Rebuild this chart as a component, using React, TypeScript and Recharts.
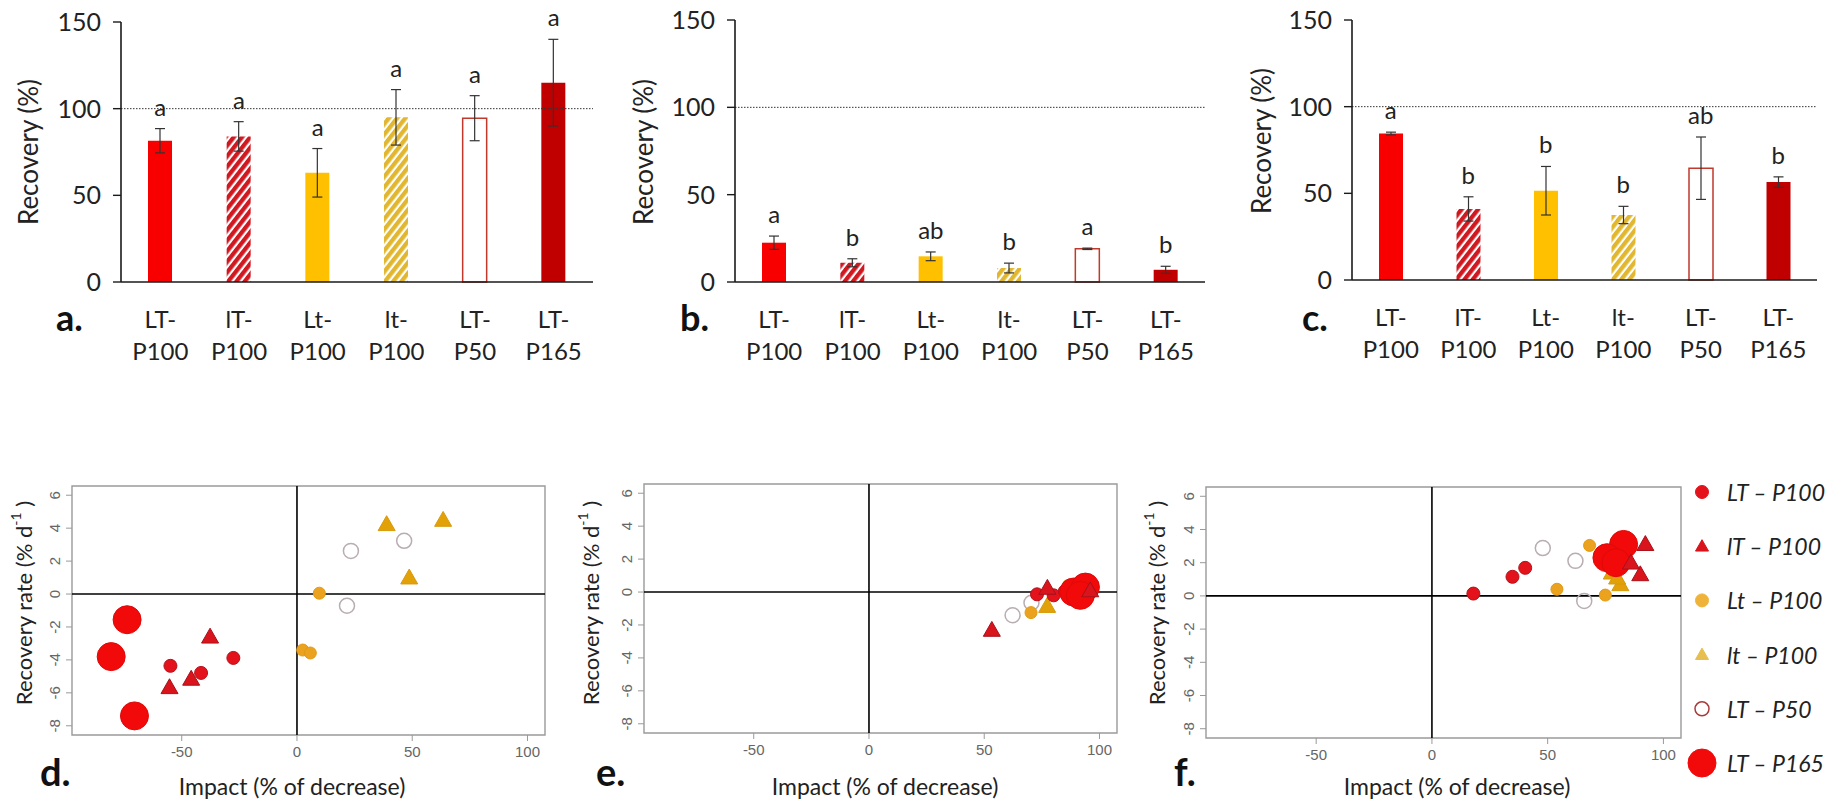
import React from 'react';
import {
  ComposedChart,
  Bar,
  Cell,
  ErrorBar,
  Line,
  XAxis,
  YAxis,
  ReferenceLine,
  ReferenceArea,
  ScatterChart,
  Scatter,
  Legend,
} from 'recharts';

// treatments (same order in every panel)
const groups = ['LT-P100', 'lT-P100', 'Lt-P100', 'lt-P100', 'LT-P50', 'LT-P165'];
const legendNames = ['LT – P100', 'lT – P100', 'Lt – P100', 'lt – P100', 'LT – P50', 'LT – P165'];

// a. recovery (%)
const recoveryA = [81.5, 84, 63, 95, 94.5, 115];
const errorA = [7, 8.5, 14, 16, 13, 25];
const lettersA = ['a', 'a', 'a', 'a', 'a', 'a'];

// b.
const recoveryB = [22.5, 11, 14.7, 8, 19, 7];
const errorB = [3.8, 2.3, 2.5, 2.8, 0.4, 2];
const lettersB = ['a', 'b', 'ab', 'b', 'a', 'b'];

// c.
const recoveryC = [84.5, 41, 51.5, 37.5, 64.5, 56.5];
const errorC = [0.8, 7, 14, 5, 18, 3];
const lettersC = ['a', 'b', 'b', 'b', 'ab', 'b'];

const recoveryTicks = [0, 50, 100, 150];

// d. recovery rate vs impact
const dLT100 = [{ x: -54.9, y: -4.36 }, { x: -27.6, y: -3.88 }, { x: -41.6, y: -4.79 }];
const dlT100 = [{ x: -37.7, y: -2.59 }, { x: -55.3, y: -5.66 }, { x: -45.9, y: -5.15 }];
const dLt100 = [{ x: 9.7, y: 0.05 }, { x: 2.5, y: -3.4 }, { x: 5.8, y: -3.58 }];
const dlt100 = [{ x: 38.9, y: 4.24 }, { x: 63.4, y: 4.5 }, { x: 48.7, y: 1.0 }];
const dLT50 = [{ x: 23.4, y: 2.62 }, { x: 46.5, y: 3.23 }, { x: 21.7, y: -0.71 }];
const dLT165 = [{ x: -73.7, y: -1.56 }, { x: -80.6, y: -3.8 }, { x: -70.5, y: -7.4 }];

// e.
const eLT100 = [{ x: 72.9, y: -0.14 }, { x: 80.1, y: -0.2 }, { x: 85, y: 0.05 }];
const elT100 = [{ x: 53.3, y: -2.3 }, { x: 77.4, y: 0.25 }, { x: 96, y: 0.1 }];
const eLt100 = [{ x: 70.3, y: -1.25 }, { x: 86.5, y: 0.4 }, { x: 90, y: 0.15 }];
const elt100 = [{ x: 77.3, y: -0.85 }, { x: 88, y: 0.3 }, { x: 92.5, y: 0.05 }];
const eLT50 = [{ x: 62.3, y: -1.41 }, { x: 70.5, y: -0.65 }, { x: 87, y: 0.1 }];
const eLT165 = [{ x: 88.8, y: 0 }, { x: 93.9, y: 0.3 }, { x: 91.7, y: -0.2 }];

// f.
const fLT100 = [{ x: 17.9, y: 0.14 }, { x: 34.8, y: 1.15 }, { x: 40.3, y: 1.69 }];
const flT100 = [{ x: 92.2, y: 3.12 }, { x: 90, y: 1.3 }, { x: 86, y: 2.0 }];
const fLt100 = [{ x: 54, y: 0.4 }, { x: 68.1, y: 3.04 }, { x: 74.9, y: 0.05 }];
const flt100 = [{ x: 81.4, y: 0.7 }, { x: 77.7, y: 1.4 }, { x: 80, y: 1.1 }];
const fLT50 = [{ x: 47.9, y: 2.88 }, { x: 62, y: 2.11 }, { x: 65.8, y: -0.3 }];
const fLT165 = [{ x: 82.8, y: 3.1 }, { x: 75.6, y: 2.3 }, { x: 79.5, y: 2.0 }];

const impactDomain = [-97.6, 107.6];
const impactTicks = [-50, 0, 50, 100];
const rateDomain = [-8.56, 6.56];
const rateTicks = [-8, -6, -4, -2, 0, 2, 4, 6];

const CAL = "Lato, 'Open Sans', sans-serif";
const ARIAL = "'Liberation Sans', Arial, sans-serif";

const barFill = (id: string) => ['#f80000', `url(#hr-${id})`, '#ffc000', `url(#hg-${id})`, '#ffffff', '#c00000'];

const markers: Record<string, any> = {
  'LT-P100': { kind: 'circle', size: 6.5, fill: '#e3121b', stroke: '#b5121b', sw: 1 },
  'lT-P100': { kind: 'tri', size: 8.5, fill: '#d9141c', stroke: '#a8101a', sw: 1 },
  'Lt-P100': { kind: 'circle', size: 6, fill: '#eba21f', stroke: '#e39a12', sw: 1 },
  'lt-P100': { kind: 'tri', size: 8.5, fill: '#e2a108', stroke: '#d89a0a', sw: 1 },
  'LT-P50': { kind: 'circle', size: 7.5, fill: 'none', stroke: '#b8adb0', sw: 1.5 },
  'LT-P165': { kind: 'circle', size: 14, fill: '#f20a0a', stroke: '#e00808', sw: 1 },
};

const legendMarkers: Record<string, any> = {
  'LT-P100': { kind: 'circle', size: 6.5, fill: '#e3121b', stroke: '#e3121b', sw: 1 },
  'lT-P100': { kind: 'tri', size: 6.5, fill: '#d9141c', stroke: '#d9141c', sw: 1 },
  'Lt-P100': { kind: 'circle', size: 6.5, fill: '#f0b33a', stroke: '#f0b33a', sw: 1 },
  'lt-P100': { kind: 'tri', size: 6.5, fill: '#e6bf50', stroke: '#e6bf50', sw: 1 },
  'LT-P50': { kind: 'circle', size: 7, fill: 'none', stroke: '#a83a3a', sw: 1.5 },
  'LT-P165': { kind: 'circle', size: 14, fill: '#f20a0a', stroke: '#f20a0a', sw: 1 },
};

function drawMarker(m: any, cx: number, cy: number, key?: any) {
  if (m.kind === 'tri') {
    const s = m.size;
    const pts = `${cx},${cy - s} ${cx - s},${cy + s * 0.75} ${cx + s},${cy + s * 0.75}`;
    return <polygon key={key} points={pts} fill={m.fill} stroke={m.stroke} strokeWidth={m.sw} />;
  }
  return <circle key={key} cx={cx} cy={cy} r={m.size} fill={m.fill} stroke={m.stroke} strokeWidth={m.sw} />;
}

function CategoryTick(props: any) {
  const { x, y, payload } = props;
  const [a, b] = String(payload.value).split('-');
  return (
    <text x={x} y={y} textAnchor="middle" fontSize={24} fill="#222" fontFamily={CAL}>
      <tspan x={x} dy={46}>{a}-</tspan>
      <tspan x={x} dy={32}>{b}</tspan>
    </text>
  );
}

function RecoveryPanel({ id, rec, err, letters, width, margin, titleX, titleY, panelX }: any) {
  const rows = groups.map((g, i) => ({
    name: g,
    value: rec[i],
    err: err[i],
    top: rec[i] + err[i],
    letter: letters[i],
  }));
  const fills = barFill(id);

  const letterDot = (p: any) => (
    <text key={`l-${p.index}`} x={p.cx} y={p.cy - 13} textAnchor="middle" fontSize={24} fill="#222" fontFamily={CAL}>
      {p.payload.letter}
    </text>
  );

  return (
    <ComposedChart width={width} height={375} data={rows} margin={margin}>
      <defs>
        <pattern id={`hr-${id}`} patternUnits="userSpaceOnUse" width="6.5" height="6.5" patternTransform="rotate(38)">
          <rect width="6.5" height="6.5" fill="#ffffff" />
          <rect width="4.3" height="6.5" fill="#d01820" />
        </pattern>
        <pattern id={`hg-${id}`} patternUnits="userSpaceOnUse" width="6.5" height="6.5" patternTransform="rotate(38)">
          <rect width="6.5" height="6.5" fill="#ffffff" />
          <rect width="4.3" height="6.5" fill="#e2b730" />
        </pattern>
      </defs>
      <XAxis
        dataKey="name"
        interval={0}
        tickLine={false}
        tickSize={0}
        tickMargin={0}
        height={60}
        axisLine={{ stroke: '#1a1a1a', strokeWidth: 1.6 }}
        tick={<CategoryTick />}
      />
      <YAxis
        domain={[0, 150]}
        ticks={recoveryTicks}
        width={60}
        tickSize={8}
        tickMargin={12}
        axisLine={{ stroke: '#1a1a1a', strokeWidth: 1.6 }}
        tickLine={{ stroke: '#1a1a1a', strokeWidth: 1.4 }}
        tick={{ fontSize: 25, fill: '#222', fontFamily: CAL }}
      />
      <ReferenceLine y={100} stroke="#333" strokeWidth={1} strokeDasharray="1.5 1.5" />
      <Bar dataKey="value" barSize={24} isAnimationActive={false}>
        {rows.map((r, i) => (
          <Cell
            key={r.name}
            fill={fills[i]}
            stroke={r.name === 'LT-P50' ? '#c0392b' : 'none'}
            strokeWidth={r.name === 'LT-P50' ? 1.5 : 0}
          />
        ))}
        <ErrorBar dataKey="err" width={5} stroke="#333" strokeWidth={1.2} direction="y" />
      </Bar>
      <Line
        dataKey="top"
        stroke="none"
        dot={letterDot}
        activeDot={false}
        legendType="none"
        isAnimationActive={false}
      />
      <text
        x={titleX}
        y={titleY}
        transform={`rotate(-90 ${titleX} ${titleY})`}
        textAnchor="middle"
        dominantBaseline="central"
        fontSize={26}
        fill="#222"
        fontFamily={CAL}
      >
        Recovery (%)
      </text>
      <text x={panelX} y={331} fontSize={36} fontWeight="bold" fill="#111" fontFamily={CAL}>
        {id}.
      </text>
    </ComposedChart>
  );
}

function RateTick(props: any) {
  const { x, y, payload } = props;
  return (
    <text
      x={x}
      y={y}
      transform={`rotate(-90 ${x} ${y})`}
      textAnchor="middle"
      fontSize={15}
      fill="#666"
      fontFamily={ARIAL}
    >
      {payload.value}
    </text>
  );
}

function LegendBox() {
  return (
    <svg width={170} height={330}>
      {groups.map((g, i) => {
        const cy = 30 + i * 54.2;
        return (
          <g key={g}>
            {drawMarker(legendMarkers[g], 17, cy)}
            <text
              x={42}
              y={cy}
              dominantBaseline="central"
              fontSize={23}
              fontStyle="italic"
              fill="#222"
              fontFamily={CAL}
            >
              {legendNames[i]}
            </text>
          </g>
        );
      })}
    </svg>
  );
}

function RatePanel({ id, sets, width, margin, titleX, titleY, impactX, panelX, showLegend }: any) {
  // drawing order: open circles and small symbols first, big circles near the top
  const order = ['LT-P50', 'Lt-P100', 'lt-P100', 'LT-P100', 'LT-P165', 'lT-P100'];
  return (
    <ScatterChart width={width} height={373} margin={margin}>
      <XAxis
        type="number"
        dataKey="x"
        domain={impactDomain}
        ticks={impactTicks}
        allowDataOverflow
        height={30}
        axisLine={false}
        tickSize={6}
        tickMargin={5}
        tickLine={{ stroke: '#999' }}
        tick={{ fontSize: 15, fill: '#666', fontFamily: ARIAL }}
      />
      <YAxis
        type="number"
        dataKey="y"
        domain={rateDomain}
        ticks={rateTicks}
        allowDataOverflow
        width={30}
        axisLine={false}
        tickSize={6}
        tickMargin={6}
        tickLine={{ stroke: '#999' }}
        tick={<RateTick />}
      />
      <ReferenceArea
        x1={impactDomain[0]}
        x2={impactDomain[1]}
        y1={rateDomain[0]}
        y2={rateDomain[1]}
        fill="none"
        fillOpacity={0}
        stroke="#9a9a9a"
        strokeWidth={1.4}
        ifOverflow="visible"
      />
      <ReferenceLine x={0} stroke="#000" strokeWidth={1.6} />
      <ReferenceLine y={0} stroke="#000" strokeWidth={1.6} />
      {order.map((g) => (
        <Scatter
          key={g}
          name={legendNames[groups.indexOf(g)]}
          data={sets[g]}
          fill={markers[g].fill}
          isAnimationActive={false}
          shape={(p: any) => drawMarker(markers[g], p.cx, p.cy)}
        />
      ))}
      {showLegend && (
        <Legend
          layout="vertical"
          align="center"
          verticalAlign="middle"
          wrapperStyle={{ left: 545, top: 32, width: 170, height: 330 }}
          content={() => <LegendBox />}
        />
      )}
      <text
        x={titleX}
        y={titleY}
        transform={`rotate(-90 ${titleX} ${titleY})`}
        textAnchor="middle"
        dominantBaseline="central"
        fontSize={22}
        fill="#222"
        fontFamily={CAL}
      >
        Recovery rate (% d
        <tspan dy={-8} fontSize={14}>-1</tspan>
        <tspan dy={8}> )</tspan>
      </text>
      <text x={impactX} y={365} textAnchor="middle" fontSize={23} fill="#222" fontFamily={CAL}>
        Impact (% of decrease)
      </text>
      <text x={panelX} y={356} fontSize={38} fontWeight="bold" fill="#111" fontFamily={CAL}>
        {id}.
      </text>
    </ScatterChart>
  );
}

const setsD = { 'LT-P100': dLT100, 'lT-P100': dlT100, 'Lt-P100': dLt100, 'lt-P100': dlt100, 'LT-P50': dLT50, 'LT-P165': dLT165 };
const setsE = { 'LT-P100': eLT100, 'lT-P100': elT100, 'Lt-P100': eLt100, 'lt-P100': elt100, 'LT-P50': eLT50, 'LT-P165': eLT165 };
const setsF = { 'LT-P100': fLT100, 'lT-P100': flT100, 'Lt-P100': fLt100, 'lt-P100': flt100, 'LT-P50': fLT50, 'LT-P165': fLT165 };

export default function App() {
  const box = (left: number, top: number): React.CSSProperties => ({ position: 'absolute', left, top });
  return (
    <div style={{ position: 'absolute', left: 0, top: 0, width: 1840, height: 803, background: '#fff', overflow: 'hidden' }}>
      <div style={box(0, 0)}>
        <RecoveryPanel id="a" rec={recoveryA} err={errorA} letters={lettersA} width={600}
          margin={{ top: 22, right: 7, bottom: 33, left: 61 }} titleX={28} titleY={152} panelX={56} />
      </div>
      <div style={box(600, 0)}>
        <RecoveryPanel id="b" rec={recoveryB} err={errorB} letters={lettersB} width={610}
          margin={{ top: 20, right: 5, bottom: 33, left: 75 }} titleX={43} titleY={152} panelX={80} />
      </div>
      <div style={box(1210, 0)}>
        <RecoveryPanel id="c" rec={recoveryC} err={errorC} letters={lettersC} width={630}
          margin={{ top: 20, right: 23, bottom: 35, left: 82 }} titleX={51} titleY={141} panelX={92} />
      </div>
      <div style={box(0, 430)}>
        <RatePanel id="d" sets={setsD} width={570} margin={{ top: 56, right: 25, bottom: 38, left: 42 }}
          titleX={23} titleY={173} impactX={292} panelX={40} />
      </div>
      <div style={box(570, 430)}>
        <RatePanel id="e" sets={setsE} width={570} margin={{ top: 54, right: 23, bottom: 40, left: 44 }}
          titleX={20} titleY={173} impactX={315} panelX={26} />
      </div>
      <div style={box(1140, 430)}>
        <RatePanel id="f" sets={setsF} width={700} margin={{ top: 57, right: 159, bottom: 35, left: 36 }}
          titleX={16} titleY={173} impactX={317} panelX={34} showLegend />
      </div>
    </div>
  );
}
